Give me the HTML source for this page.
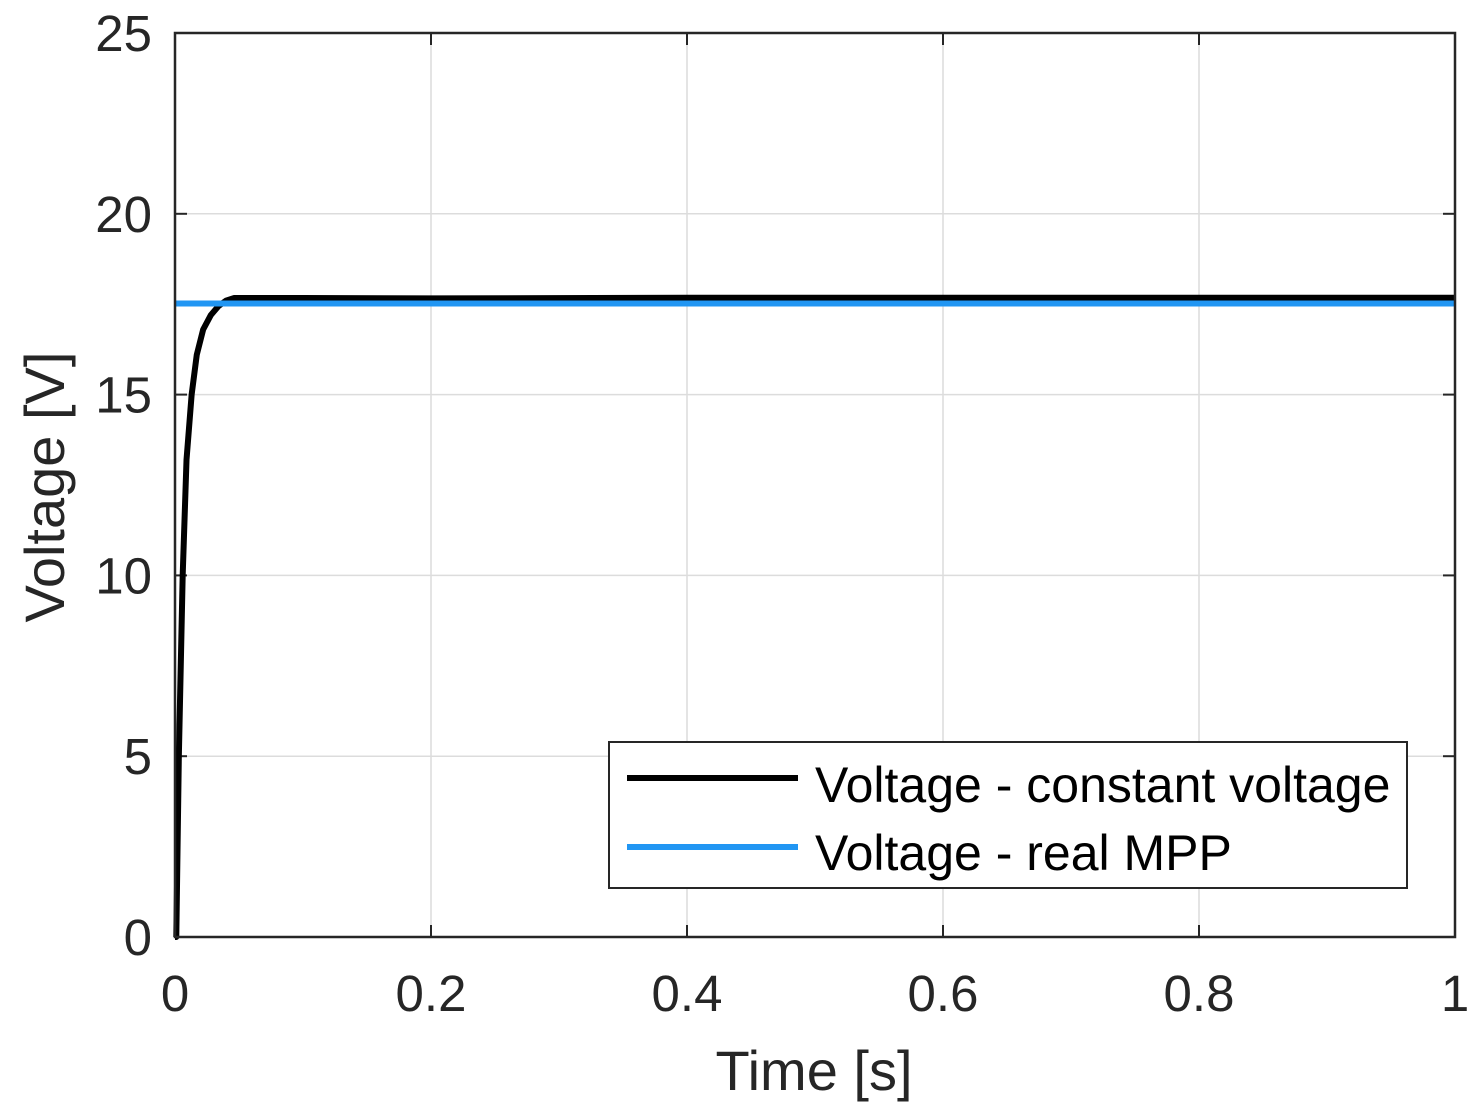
<!DOCTYPE html>
<html><head><meta charset="utf-8"><style>
html,body{margin:0;padding:0;background:#fff;width:1477px;height:1117px;overflow:hidden}
svg{display:block;font-family:"Liberation Sans",Arial,sans-serif}
</style></head><body>
<svg id="chart" width="1477" height="1117"></svg>
<script>
const xTicks=[0,0.2,0.4,0.6,0.8,1];
const xTickLabels=["0","0.2","0.4","0.6","0.8","1"];
const yTicks=[0,5,10,15,20,25];
const yTickLabels=["0","5","10","15","20","25"];
const cvTime=[0,0.001,0.003,0.006,0.009,0.013,0.017,0.022,0.028,0.034,0.040,0.046,0.1,0.2,0.4,0.6,0.8,1];
const cvVoltage=[0,0,5,10,13.2,15,16.1,16.8,17.2,17.45,17.6,17.67,17.67,17.66,17.68,17.68,17.68,17.68];
const mppTime=[0,1];
const mppVoltage=[17.52,17.52];
const L=175,R=1455,T=33,B=937;
const sx=v=>L+(v-0)/(1-0)*(R-L);
const sy=v=>B-(v-0)/(25-0)*(B-T);
const svg=document.getElementById('chart');
const NS='http://www.w3.org/2000/svg';
function mk(tag,attrs,parent){const e=document.createElementNS(NS,tag);for(const k in attrs)e.setAttribute(k,attrs[k]);(parent||svg).appendChild(e);return e;}
mk('rect',{x:L,y:T,width:R-L,height:B-T,fill:'#fff'});
xTicks.forEach((t,i)=>{
 if(i>0&&i<xTicks.length-1){const g=mk('line',{x1:sx(t),x2:sx(t),y1:T,y2:B,stroke:'#dcdcdc','stroke-width':1.5});
 
 }
 mk('line',{x1:sx(t),x2:sx(t),y1:B,y2:B-12,stroke:'#262626','stroke-width':2});
 mk('line',{x1:sx(t),x2:sx(t),y1:T,y2:T+12,stroke:'#262626','stroke-width':2});
 const tx=mk('text',{x:sx(t),y:1011,'text-anchor':'middle','font-size':51,fill:'#262626'});
 tx.textContent=xTickLabels[i];
 
 
});
yTicks.forEach((v,i)=>{
 if(i>0&&i<yTicks.length-1){const g=mk('line',{x1:L,x2:R,y1:sy(v),y2:sy(v),stroke:'#dcdcdc','stroke-width':1.5});
 
 }
 mk('line',{x1:L,x2:L+12,y1:sy(v),y2:sy(v),stroke:'#262626','stroke-width':2});
 mk('line',{x1:R,x2:R-12,y1:sy(v),y2:sy(v),stroke:'#262626','stroke-width':2});
 const tx=mk('text',{x:152,y:sy(v)+18,'text-anchor':'end','font-size':51,fill:'#262626'});
 tx.textContent=yTickLabels[i];
 
 
});
const cv=mk('polyline',{points:cvTime.map((t,i)=>sx(t)+','+sy(cvVoltage[i])).join(' '),fill:'none',stroke:'#000','stroke-width':6,'stroke-linejoin':'round'});


const mpp=mk('polyline',{points:mppTime.map((t,i)=>sx(t)+','+sy(mppVoltage[i])).join(' '),fill:'none',stroke:'#2196f3','stroke-width':6});


const ax=mk('rect',{x:L,y:T,width:R-L,height:B-T,fill:'none',stroke:'#262626','stroke-width':2.5});


const xl=mk('text',{x:814,y:1090,'text-anchor':'middle','font-size':56,fill:'#262626'});
xl.textContent='Time [s]';


const yl=mk('text',{x:0,y:0,'text-anchor':'middle','font-size':56,fill:'#262626',transform:'translate(64,487) rotate(-90)'});
yl.textContent='Voltage [V]';


const lg=mk('g',{});


mk('rect',{x:609,y:742,width:798,height:146,fill:'#fff',stroke:'#262626','stroke-width':2},lg);
mk('line',{x1:627,x2:798,y1:778,y2:778,stroke:'#000','stroke-width':6},lg);
mk('line',{x1:627,x2:798,y1:847,y2:847,stroke:'#2196f3','stroke-width':6},lg);
const t1=mk('text',{x:815,y:802,'font-size':50,fill:'#000'},lg);t1.textContent='Voltage - constant voltage';


const t2=mk('text',{x:815,y:870,'font-size':50,fill:'#000'},lg);t2.textContent='Voltage - real MPP';


</script>
</body></html>
